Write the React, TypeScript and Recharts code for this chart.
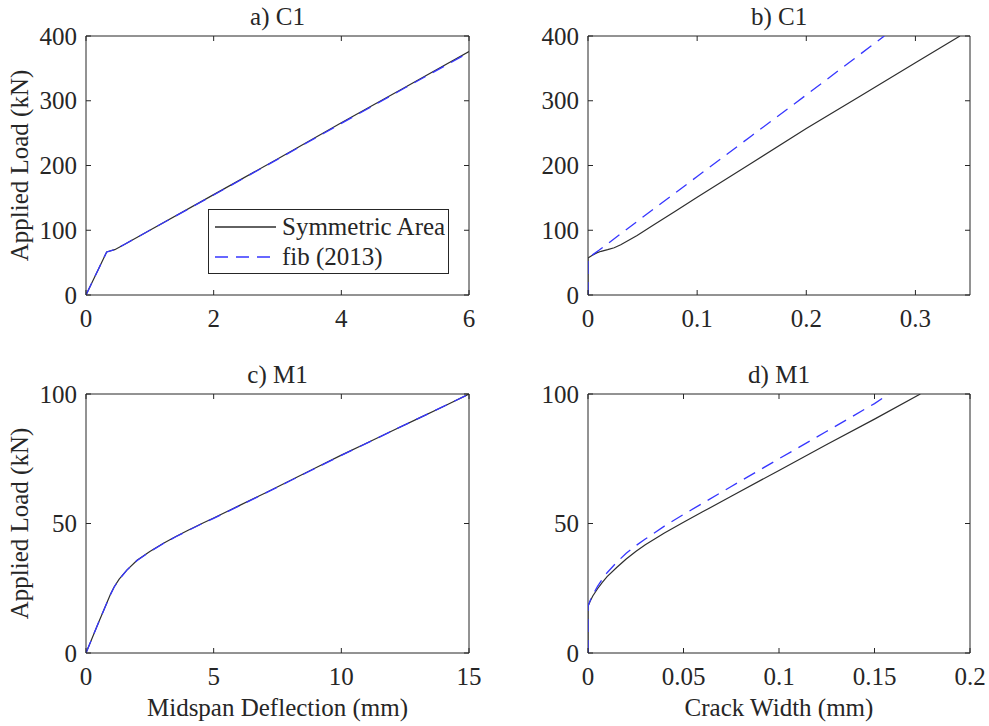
import React from 'react';
import { LineChart, Line, XAxis, YAxis, ReferenceArea, Legend } from 'recharts';

const FONT = "'Liberation Serif', 'Times New Roman', serif";
const INK = '#262626';
const SYM_COLOR = '#2e2e2e';
const FIB_COLOR = '#3636ff';
const FS = 25;

// a) C1 - load vs midspan deflection
const c1DefTicks = [0, 2, 4, 6];
const c1LoadTicks = [0, 100, 200, 300, 400];
const c1DefSymX = [0, 0.1, 0.2, 0.324, 0.36, 0.45, 0.6, 1, 2, 3, 4, 5, 6];
const c1DefSymY = [0, 20.5, 41, 66.5, 67.5, 70, 78, 100, 155, 210, 266, 321, 376];
const c1DefFibX = [0, 0.1, 0.2, 0.324, 0.36, 0.45, 0.6, 1, 2, 3, 4, 5, 6];
const c1DefFibY = [0, 20.5, 41, 66.5, 67.5, 70, 78, 100, 154.5, 209.5, 265, 320, 374.5];

// b) C1 - load vs crack width
const c1CrackTicks = [0, 0.1, 0.2, 0.3];
const c1CrackSymX = [0, 0, 0.004, 0.008, 0.012, 0.018, 0.024, 0.03, 0.045, 0.06, 0.08, 0.1, 0.15, 0.2, 0.25, 0.3, 0.3408];
const c1CrackSymY = [0, 57, 61.5, 65, 67.5, 70, 73, 77.5, 92, 108, 129.5, 151, 204, 257, 307.8, 358.6, 400];
const c1CrackFibX = [0, 0, 0.01, 0.05, 0.1, 0.15, 0.2, 0.2715];
const c1CrackFibY = [0, 57, 69, 120, 183, 246, 309, 400];

// c) M1 - load vs midspan deflection
const m1DefTicks = [0, 5, 10, 15];
const m1LoadTicks = [0, 50, 100];
const m1DefSymX = [0, 0.5, 0.95, 1.1, 1.3, 1.6, 2, 2.5, 3, 3.5, 4, 4.5, 5, 6, 7, 8, 9, 10, 11, 12, 13, 14, 15];
const m1DefSymY = [0, 12, 22.5, 25.5, 28.5, 32, 35.8, 39.2, 42.2, 44.9, 47.4, 49.8, 52.1, 56.9, 61.7, 66.6, 71.5, 76.4, 81.1, 85.8, 90.5, 95.2, 100];
const m1DefFibX = [0, 0.5, 0.95, 1.1, 1.3, 1.6, 2, 2.5, 3, 3.5, 4, 4.5, 5, 6, 7, 8, 9, 10, 11, 12, 13, 14, 15];
const m1DefFibY = [0, 12, 22.4, 25.4, 28.4, 32, 35.7, 39.1, 42.1, 44.8, 47.3, 49.7, 52, 56.8, 61.6, 66.5, 71.4, 76.3, 81, 85.8, 90.5, 95.2, 100];

// d) M1 - load vs crack width
const m1CrackTicks = [0, 0.05, 0.1, 0.15, 0.2];
const m1CrackSymX = [0, 0, 0.001, 0.0025, 0.005, 0.0075, 0.01, 0.015, 0.02, 0.025, 0.03, 0.04, 0.05, 0.06, 0.075, 0.1, 0.125, 0.15, 0.174];
const m1CrackSymY = [0, 18, 19.8, 22, 24.8, 27.3, 29.5, 33, 36.3, 39.2, 41.8, 46.3, 50.5, 54.5, 60.5, 70.5, 80.5, 90.3, 100];
const m1CrackFibX = [0, 0, 0.001, 0.0025, 0.005, 0.0075, 0.01, 0.015, 0.02, 0.025, 0.03, 0.04, 0.05, 0.06, 0.075, 0.1, 0.125, 0.15, 0.1576];
const m1CrackFibY = [0, 18, 20, 22.5, 25.7, 28.5, 31, 35, 38.5, 41.4, 44, 49, 53.5, 57.8, 64.3, 75, 85.6, 96.3, 100];

type Pt = { x: number; y: number };
const zip = (xs: number[], ys: number[]): Pt[] => xs.map((x, i) => ({ x, y: ys[i] }));

const LegendBox = ({ payload }: any) => (
  <div
    style={{
      position: 'relative',
      width: 241,
      height: 65,
      boxSizing: 'border-box',
      border: `1px solid ${INK}`,
      background: '#fff',
    }}
  >
    {(payload || []).map((entry: any, i: number) => (
      <div
        key={entry.value}
        style={{ position: 'absolute', left: 0, top: 2 + i * 30, height: 30, display: 'flex', alignItems: 'center' }}
      >
        <svg width={73} height={30}>
          <line
            x1={6}
            x2={67}
            y1={15}
            y2={15}
            stroke={entry.color}
            strokeWidth={1.3}
            strokeDasharray={entry.payload?.strokeDasharray}
          />
        </svg>
        <span style={{ fontFamily: FONT, fontSize: FS, color: INK, whiteSpace: 'nowrap' }}>{entry.value}</span>
      </div>
    ))}
  </div>
);

interface PanelProps {
  left: number;
  top: number;
  width: number;
  height: number;
  plot: { x: number; y: number; w: number; h: number };
  xDomain: [number, number];
  xTicks: number[];
  yDomain: [number, number];
  yTicks: number[];
  sym: Pt[];
  fib: Pt[];
  legend?: boolean;
}

const Panel = ({ left, top, width, height, plot, xDomain, xTicks, yDomain, yTicks, sym, fib, legend }: PanelProps) => {
  // MATLAB-style ticks: pointing inward, mirrored on the opposite side of the box
  const xTick = ({ x, y, payload }: any) => (
    <g>
      <line x1={x} x2={x} y1={y} y2={y - 5} stroke={INK} />
      <line x1={x} x2={x} y1={y - plot.h} y2={y - plot.h + 5} stroke={INK} />
      <text x={x} y={y + 32} textAnchor="middle" fontFamily={FONT} fontSize={FS} fill={INK}>
        {payload.value}
      </text>
    </g>
  );
  const yTick = ({ x, y, payload }: any) => (
    <g>
      <line x1={x} x2={x + 5} y1={y} y2={y} stroke={INK} />
      <line x1={x + plot.w} x2={x + plot.w - 5} y1={y} y2={y} stroke={INK} />
      <text x={x - 9} y={y + 8.5} textAnchor="end" fontFamily={FONT} fontSize={FS} fill={INK}>
        {payload.value}
      </text>
    </g>
  );

  return (
    <div style={{ position: 'absolute', left, top, width, height }}>
      <LineChart
        width={width}
        height={height}
        margin={{ top: plot.y, right: width - plot.x - plot.w, left: 0, bottom: 0 }}
      >
        <XAxis
          type="number"
          dataKey="x"
          domain={xDomain}
          ticks={xTicks}
          interval={0}
          allowDataOverflow
          height={height - plot.y - plot.h}
          axisLine={false}
          tickLine={false}
          tickSize={0}
          tickMargin={0}
          tick={xTick}
        />
        <YAxis
          type="number"
          dataKey="y"
          domain={yDomain}
          ticks={yTicks}
          interval={0}
          allowDataOverflow
          width={plot.x}
          axisLine={false}
          tickLine={false}
          tickSize={0}
          tickMargin={0}
          tick={yTick}
        />
        <ReferenceArea
          x1={xDomain[0]}
          x2={xDomain[1]}
          y1={yDomain[0]}
          y2={yDomain[1]}
          fill="none"
          stroke={INK}
          strokeWidth={1}
          fillOpacity={0}
        />
        <Line
          data={sym}
          dataKey="y"
          name="Symmetric Area"
          stroke={SYM_COLOR}
          strokeWidth={1.2}
          dot={false}
          activeDot={false}
          isAnimationActive={false}
        />
        <Line
          data={fib}
          dataKey="y"
          name="fib (2013)"
          stroke={FIB_COLOR}
          strokeWidth={1.3}
          strokeDasharray="13 8"
          dot={false}
          activeDot={false}
          isAnimationActive={false}
        />
        {legend && (
          <Legend
            layout="vertical"
            align="center"
            verticalAlign="middle"
            wrapperStyle={{ left: 208, top: 209, width: 241, height: 65 }}
            content={LegendBox}
          />
        )}
      </LineChart>
    </div>
  );
};

const txt = { fontFamily: FONT, fontSize: FS, fill: INK } as const;

export default function App() {
  return (
    <div style={{ position: 'absolute', left: 0, top: 0, width: 989, height: 726, background: '#fff' }}>
      <Panel
        left={0}
        top={0}
        width={490}
        height={340}
        plot={{ x: 86, y: 36, w: 383, h: 259 }}
        xDomain={[0, 6]}
        xTicks={c1DefTicks}
        yDomain={[0, 400]}
        yTicks={c1LoadTicks}
        sym={zip(c1DefSymX, c1DefSymY)}
        fib={zip(c1DefFibX, c1DefFibY)}
        legend
      />
      <Panel
        left={490}
        top={0}
        width={499}
        height={340}
        plot={{ x: 98, y: 36, w: 382, h: 259 }}
        xDomain={[0, 0.35]}
        xTicks={c1CrackTicks}
        yDomain={[0, 400]}
        yTicks={c1LoadTicks}
        sym={zip(c1CrackSymX, c1CrackSymY)}
        fib={zip(c1CrackFibX, c1CrackFibY)}
      />
      <Panel
        left={0}
        top={340}
        width={490}
        height={386}
        plot={{ x: 86, y: 54, w: 383, h: 259 }}
        xDomain={[0, 15]}
        xTicks={m1DefTicks}
        yDomain={[0, 100]}
        yTicks={m1LoadTicks}
        sym={zip(m1DefSymX, m1DefSymY)}
        fib={zip(m1DefFibX, m1DefFibY)}
      />
      <Panel
        left={490}
        top={340}
        width={499}
        height={386}
        plot={{ x: 98, y: 54, w: 382, h: 259 }}
        xDomain={[0, 0.2]}
        xTicks={m1CrackTicks}
        yDomain={[0, 100]}
        yTicks={m1LoadTicks}
        sym={zip(m1CrackSymX, m1CrackSymY)}
        fib={zip(m1CrackFibX, m1CrackFibY)}
      />
      <svg width={989} height={726} style={{ position: 'absolute', left: 0, top: 0, pointerEvents: 'none' }}>
        <text x={277.5} y={25} textAnchor="middle" {...txt}>a) C1</text>
        <text x={779} y={25} textAnchor="middle" {...txt}>b) C1</text>
        <text x={277.5} y={383} textAnchor="middle" {...txt}>c) M1</text>
        <text x={779} y={383} textAnchor="middle" {...txt}>d) M1</text>
        <text x={28} y={165.5} textAnchor="middle" transform="rotate(-90 28 165.5)" {...txt}>Applied Load (kN)</text>
        <text x={28} y={523.5} textAnchor="middle" transform="rotate(-90 28 523.5)" {...txt}>Applied Load (kN)</text>
        <text x={277.5} y={716} textAnchor="middle" {...txt}>Midspan Deflection (mm)</text>
        <text x={779} y={716} textAnchor="middle" {...txt}>Crack Width (mm)</text>
      </svg>
    </div>
  );
}
